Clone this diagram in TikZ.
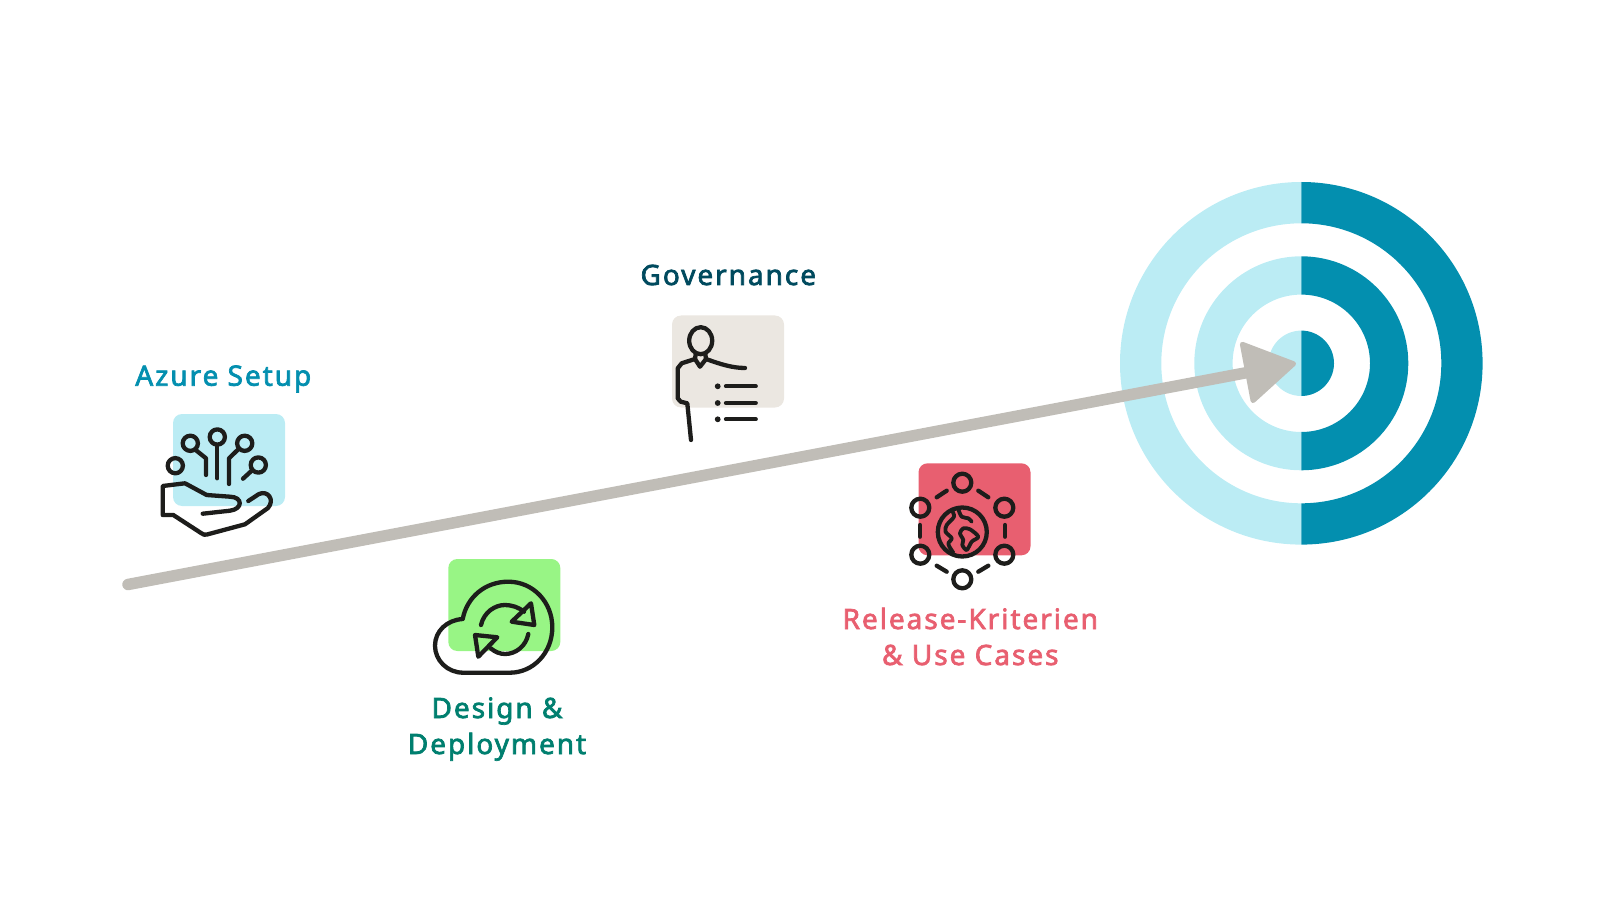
\documentclass[tikz,border=0pt]{standalone}
\usepackage{fontspec}
\setmainfont{Noto Sans}[LetterSpace=7,FakeBold=2.5]
\usetikzlibrary{arrows.meta}
\definecolor{targetlight}{HTML}{BBECF4}
\definecolor{targetdark}{HTML}{038FAF}
\definecolor{pathgrey}{HTML}{C0BDB7}
\definecolor{inkblack}{HTML}{1D1D1B}
\definecolor{setupblue}{HTML}{038FAF}
\definecolor{setuptint}{HTML}{BBECF4}
\definecolor{deploygreen}{HTML}{007F6F}
\definecolor{deploytint}{HTML}{98F585}
\definecolor{govnavy}{HTML}{004A5E}
\definecolor{govtint}{HTML}{EBE7E1}
\definecolor{releasered}{HTML}{E85F70}
\tikzset{
  backdrop/.style={rectangle,rounded corners=9pt,minimum width=112pt,minimum height=92pt,inner sep=0pt},
  steplabel/.style={font=\fontsize{28}{36}\selectfont,align=center,anchor=base,inner sep=0pt},
  icon/.style={draw=inkblack,line width=4.3pt,line cap=round,line join=round,fill=none},
}
\begin{document}
\begin{tikzpicture}[x=1pt,y=-1pt]
\useasboundingbox (0,0) rectangle (1601,901);
\coordinate (target) at (1301.3,363.3);
\coordinate (pathstart) at (128,584.5);
\coordinate (pathtip) at (1296,363.3);
% target rings
\foreach \outer/\inner in {181.3/140,107/68.7,32.7/0}{
  \fill[targetlight] ([yshift=\outer pt]target) arc[start angle=90,end angle=270,radius=\outer pt]
    -- ([yshift=-\inner pt]target) arc[start angle=270,end angle=90,radius=\inner pt] -- cycle;
  \fill[targetdark] ([yshift=\outer pt]target) arc[start angle=90,end angle=-90,radius=\outer pt]
    -- ([yshift=-\inner pt]target) arc[start angle=-90,end angle=90,radius=\inner pt] -- cycle;
}
% path to the target
\draw[pathgrey,line width=11.5pt,line cap=round,-{Triangle[length=54pt,width=65pt,line width=5pt,round]}] (pathstart) -- (pathtip);
% backdrops
\node[backdrop,fill=setuptint] (setupbox) at (229,460) {};
\node[backdrop,fill=deploytint] (deploybox) at (504.3,605) {};
\node[backdrop,fill=govtint] (govbox) at (728,361.5) {};
\node[backdrop,fill=releasered] (releasebox) at (974.5,509.3) {};
% labels
\node[steplabel,text=setupblue] (setuplabel) at (223.3,385.7) {Azure Setup};
\node[steplabel,text=govnavy] (govlabel) at (728.3,285) {Governance};
\node[steplabel,text=deploygreen] (deploylabel) at (497,754) {Design \&\\Deployment};
\node[steplabel,text=releasered] (releaselabel) at (970.3,665) {Release-Kriterien\\\& Use Cases};
% hand icon
\foreach \cx/\cy in {175.3/465.7,190.3/443.3,217.3/437,244.7/443.3,258.3/465}{
  \draw[icon] (\cx,\cy) circle (7.6);
}
\draw[icon] (195.7,450) -- (206,458.3) -- (206,475);
\draw[icon] (217.3,446) -- (217.3,478.3);
\draw[icon] (238.3,449.3) -- (229,458.3) -- (229,484);
\draw[icon] (251.7,470.7) -- (243,478.7);
\draw[icon] (202.7,513.7) -- (230,510.7) .. controls (243,509) and (243,497) .. (230,496.7) -- (206.7,495) -- (185,483.3) -- (162.7,486) -- (162.7,515) -- (173.3,515) -- (201,533) .. controls (203,535) and (205,535) .. (207,534.5) -- (245,524.3) -- (268,508) .. controls (275,500) and (268,490) .. (259,494) -- (248.3,501);
% cloud icon
\draw[icon] (462.7,619) .. controls (467,597) and (485,581.7) .. (508.3,581.7) .. controls (533,581.7) and (552.3,602) .. (552.3,627.3) .. controls (552.3,653) and (533,672.7) .. (510,672.7) -- (463.3,672.7) .. controls (447,672.7) and (435,660) .. (435,645.7) .. controls (435,631) and (447,620) .. (462.7,619);
\draw[icon] (481,625) .. controls (484,612) and (495,605) .. (505,605) .. controls (512,605) and (519,607.5) .. (524,611.7);
\draw[icon] (528.3,634) .. controls (526,646) and (516,654) .. (505,654) .. controls (500,654) and (495,652) .. (490.7,648.3);
\draw[icon] (531,603.3) -- (534.3,625) -- (511.7,621.7) -- cycle;
\draw[icon] (475,635) -- (497.3,637.3) -- (478.3,656.7) -- cycle;
% presenter icon
\draw[icon] (700.7,340.7) ellipse (11.5 and 13.5);
\draw[icon] (695.7,354) -- (695,359) -- (700,366.7) -- (706,359) -- (705.3,354);
\draw[icon] (706,359) .. controls (720,364) and (732,368) .. (745,368);
\draw[icon] (695,359) -- (681.7,363.3) -- (677.7,368.3) -- (677.7,398.3) -- (680.7,401.7) -- (687.3,403.3) -- (691,440);
\foreach \ly in {386.3,403,419.3}{
  \fill[inkblack] (717.7,\ly) circle (2.9);
  \draw[icon] (726,\ly) -- (755.7,\ly);
}
% globe icon
\foreach \cx/\cy in {962.3/482.7,920.3/507.7,1004.3/507.7,920.3/554.7,1004.3/554.7,962.3/579.3}{
  \draw[icon] (\cx,\cy) circle (9);
}
\draw[icon] (936.7,497.3) -- (946.7,490.7);
\draw[icon] (978.3,490.7) -- (988.3,497.3);
\draw[icon] (920,525) -- (920,536.7);
\draw[icon] (1005,525) -- (1005,536.7);
\draw[icon] (936.7,565.7) -- (946.7,571.7);
\draw[icon] (978.3,571.7) -- (988.3,565.7);
\draw[icon] (962.3,532) circle (24.5);
\draw[icon,line width=3.8pt] plot[smooth] coordinates {(951.7,510) (954,516.7) (946.7,525) (945.5,531.7) (951.7,538.3) (948.3,544) (953.3,552.7)};
\draw[icon,line width=3.8pt] plot[smooth] coordinates {(958.3,509.3) (961.7,516.7) (968.3,518.3) (971.7,521.7)};
\draw[icon,line width=3.8pt] plot[smooth cycle] coordinates {(960,533.3) (963.3,528.3) (970,529.3) (978.3,536.7) (971.7,541.7) (966.7,550) (962.3,545) (963.3,540)};
\end{tikzpicture}
\end{document}
